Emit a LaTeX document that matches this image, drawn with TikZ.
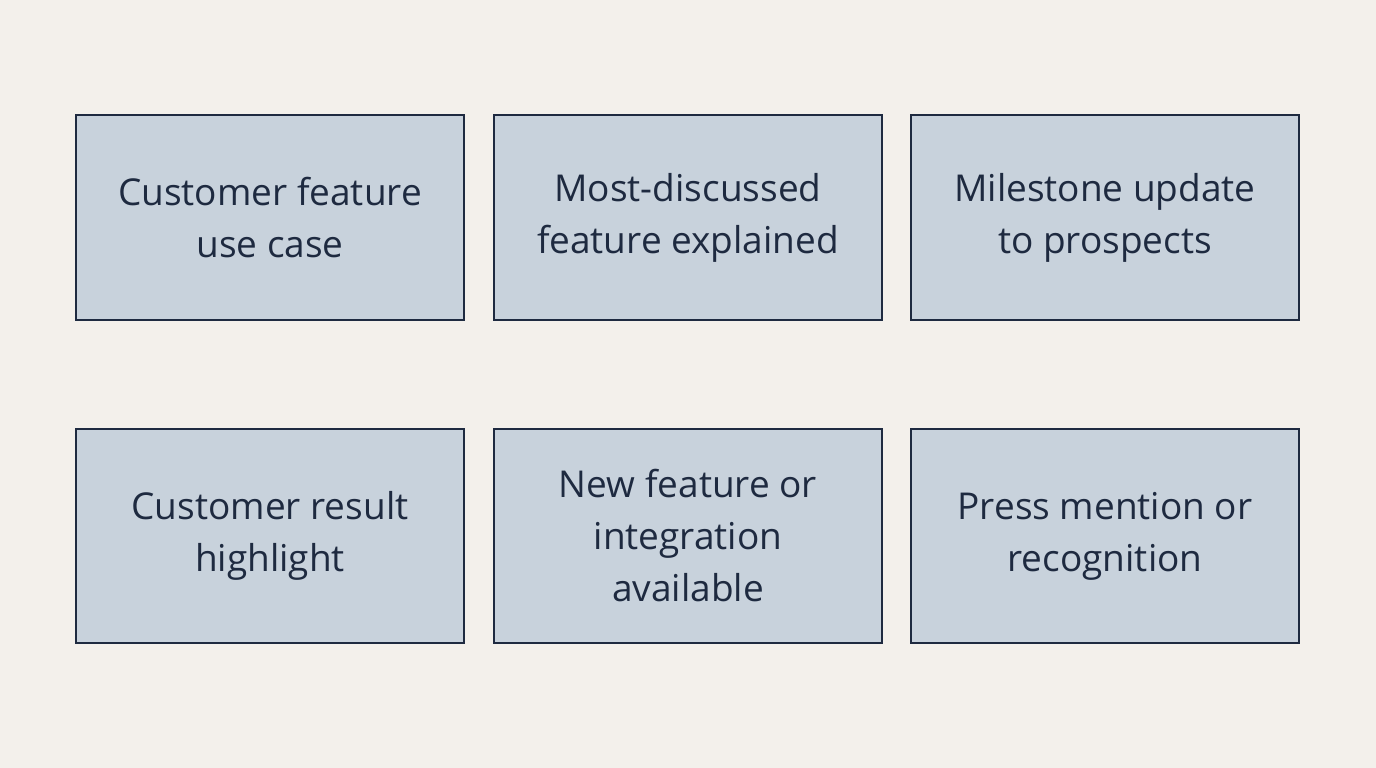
\documentclass[tikz,border=0pt]{standalone}
\usepackage{fontspec}
\setmainfont{Open Sans}
\begin{document}
\begin{tikzpicture}[x=1pt,y=-1pt,
 box/.style={draw=boxline,fill=boxfill,line width=1.8pt,minimum width=388pt,minimum height=#1,align=center,text=txt,font=\fontsize{37}{52}\selectfont,inner sep=0pt},
 box/.default=205pt]
\definecolor{bg}{HTML}{F3F0EB}\definecolor{boxfill}{HTML}{C8D2DC}\definecolor{boxline}{HTML}{1E2A40}\definecolor{txt}{HTML}{1E2A40}
\fill[bg] (0,0) rectangle (1376,768);
\useasboundingbox (0,0) rectangle (1376,768);
\node[box] (a) at (270,217.5) {Customer feature\\use case};
\node[box] (b) at (688,217.5) {Most-discussed\\feature explained};
\node[box] (c) at (1105,217.5) {Milestone update\\to prospects};
\node[box=214pt] (d) at (270,536) {Customer result\\highlight};
\node[box=214pt] (e) at (688,536) {New feature or\\integration\\available};
\node[box=214pt] (f) at (1105,536) {Press mention or\\recognition};
\end{tikzpicture}
\end{document}
